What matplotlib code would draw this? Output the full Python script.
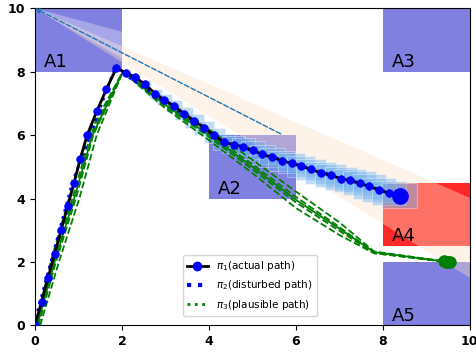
import matplotlib
matplotlib.use("Agg")
import matplotlib.pyplot as plt
from matplotlib.lines import Line2D
from matplotlib.patches import Polygon, Rectangle

# regions: name, x0, y0, width, height
region_names = ["A1", "A2", "A3", "A4", "A5"]
region_x = [0.0, 4.0, 8.0, 8.0, 8.0]
region_y = [8.0, 4.0, 8.0, 2.5, 0.0]
region_w = [2.0, 2.0, 2.0, 2.0, 2.0]
region_h = [2.0, 2.0, 2.0, 2.0, 2.0]
region_colors = ["#8080e0", "#8080e0", "#8080e0", "#ff2828", "#8080e0"]

# pi1, actual path
actual_x = [0.0, 0.15, 0.30, 0.45, 0.60, 0.75, 0.90, 1.04, 1.20, 1.42, 1.64, 1.87,
            2.10, 2.31, 2.53, 2.77, 2.97, 3.20, 3.43, 3.66, 3.89, 4.12, 4.35, 4.57,
            4.79, 5.01, 5.23, 5.46, 5.68, 5.90, 6.12, 6.35, 6.57, 6.80, 7.03, 7.25,
            7.47, 7.69, 7.91, 8.14, 8.39]
actual_y = [0.0, 0.75, 1.50, 2.25, 3.00, 3.75, 4.50, 5.25, 6.00, 6.75, 7.44, 8.11,
            7.97, 7.82, 7.60, 7.30, 7.12, 6.91, 6.68, 6.45, 6.23, 5.99, 5.77, 5.70,
            5.63, 5.52, 5.39, 5.30, 5.19, 5.11, 5.02, 4.92, 4.81, 4.73, 4.63, 4.57,
            4.48, 4.38, 4.27, 4.17, 4.09]
# half size of the uncertainty square at each point after the peak
uncertainty = [0.08, 0.11, 0.13, 0.15, 0.17, 0.19, 0.20, 0.22, 0.23, 0.24, 0.25,
               0.26, 0.27, 0.28, 0.29, 0.30, 0.31, 0.32, 0.33, 0.34, 0.35, 0.36,
               0.37, 0.37, 0.38, 0.38, 0.39, 0.39, 0.40]

# pi2, disturbed path
disturbed_x = [-0.03, 0.86, 1.84, 4.35, 8.39]
disturbed_y = [0.0, 4.50, 8.12, 5.78, 4.09]

# pi3, plausible paths
plausible_x = [
    [0.02, 0.36, 0.78, 1.22, 2.02, 3.0, 4.0, 5.0, 6.0, 7.0, 7.8, 9.40],
    [0.05, 0.42, 0.86, 1.28, 2.02, 3.0, 4.0, 5.0, 6.0, 7.0, 7.8, 9.45],
    [0.08, 0.48, 0.94, 1.34, 2.02, 3.0, 4.0, 5.0, 6.0, 7.0, 7.8, 9.50],
    [0.12, 0.55, 1.02, 1.42, 2.02, 3.0, 4.0, 5.0, 6.0, 7.0, 7.8, 9.54],
    [0.05, 0.45, 0.90, 1.32, 2.02, 3.0, 4.0, 5.0, 6.0, 7.0, 7.8, 9.47],
]
plausible_y = [
    [0.0, 2.0, 4.0, 6.0, 8.0, 7.05, 6.18, 5.22, 4.22, 3.25, 2.33, 2.02],
    [0.0, 2.0, 4.0, 6.0, 8.0, 6.98, 6.06, 5.08, 4.05, 3.10, 2.30, 2.00],
    [0.0, 2.0, 4.0, 6.0, 8.0, 6.90, 5.94, 4.92, 3.88, 2.98, 2.28, 1.99],
    [0.0, 2.0, 4.0, 6.0, 8.0, 6.84, 5.84, 4.80, 3.70, 2.85, 2.27, 2.01],
    [0.0, 2.0, 4.0, 6.0, 8.0, 6.95, 6.00, 5.00, 3.96, 3.05, 2.31, 2.00],
]
plausible_styles = ["--", "--", "--", "--", "-"]

# observer cones from the top-left corner
cone_x = [0.0, 10.0, 10.0]
cone_y = [10.0, 4.02, 1.5]
inner_cone_x = [0.0, 2.0, 2.0]
inner_cone_y = [10.0, 9.26, 8.42]
sight_start = (5.65, 6.04)
sight_end = (0.0, 10.0)

ticks = [0, 2, 4, 6, 8, 10]

fig = plt.figure(figsize=(4.76, 3.54), dpi=100)
ax = fig.add_axes([0.0735, 0.081, 0.9135, 0.8956])

for name, x0, y0, w, h, c in zip(region_names, region_x, region_y, region_w,
                                 region_h, region_colors):
    ax.add_patch(Rectangle((x0, y0), w, h, facecolor=c, edgecolor="none", zorder=1))
    ax.text(x0 + 0.2, y0 + 0.15, name, fontsize=13, zorder=6)

ax.add_patch(Polygon(list(zip(cone_x, cone_y)), closed=True, facecolor="#fae1c8",
                     edgecolor="none", alpha=0.4, zorder=2))
ax.add_patch(Polygon(list(zip(inner_cone_x, inner_cone_y)), closed=True,
                     facecolor="white", edgecolor="none", alpha=0.3, zorder=2))
ax.annotate("", xy=sight_end, xytext=sight_start, zorder=3,
            arrowprops=dict(arrowstyle="-|>", color="tab:blue", ls="--", lw=1.0,
                            mutation_scale=7, shrinkA=0, shrinkB=0))

# uncertainty squares along the descending part of pi1
peak = len(actual_x) - len(uncertainty)
for x, y, h in zip(actual_x[peak:], actual_y[peak:], uncertainty):
    ax.add_patch(Rectangle((x - h, y - h), 2 * h, 2 * h, facecolor="#6aaef0",
                           edgecolor="white", lw=0.6, alpha=0.42, zorder=3))

for px, py, ls in zip(plausible_x, plausible_y, plausible_styles):
    ax.plot(px, py, ls=ls, color="green", lw=1.3, zorder=4)
    ax.plot(px[-1], py[-1], "o", color="green", ms=8, zorder=4)

ax.plot(disturbed_x, disturbed_y, ":", color="blue", lw=2, zorder=4.5)
ax.plot(actual_x, actual_y, "-o", color="black", mfc="blue", mec="blue", ms=5.5,
        mew=0.5, lw=2, zorder=5)
ax.plot(actual_x[-1], actual_y[-1], "o", color="blue", ms=11, zorder=5)

handles = [
    Line2D([], [], color="black", lw=2, marker="o", mfc="blue", mec="blue", ms=6),
    Line2D([], [], color="blue", lw=3, ls=":"),
    Line2D([], [], color="green", lw=2, ls=":"),
]
labels = [r"$\pi_1$(actual path)", r"$\pi_2$(disturbed path)",
          r"$\pi_3$(plausible path)"]
ax.legend(handles, labels, loc="lower left", bbox_to_anchor=(0.34, 0.03),
          borderaxespad=0, fontsize=7.5, handlelength=2.0, framealpha=0.8)

ax.set_xlim(0, 10)
ax.set_ylim(0, 10)
ax.set_xticks(ticks, [str(t) for t in ticks], fontweight="bold", fontsize=9)
ax.set_yticks(ticks, [str(t) for t in ticks], fontweight="bold", fontsize=9)

fig.savefig("out.png", dpi=100)
